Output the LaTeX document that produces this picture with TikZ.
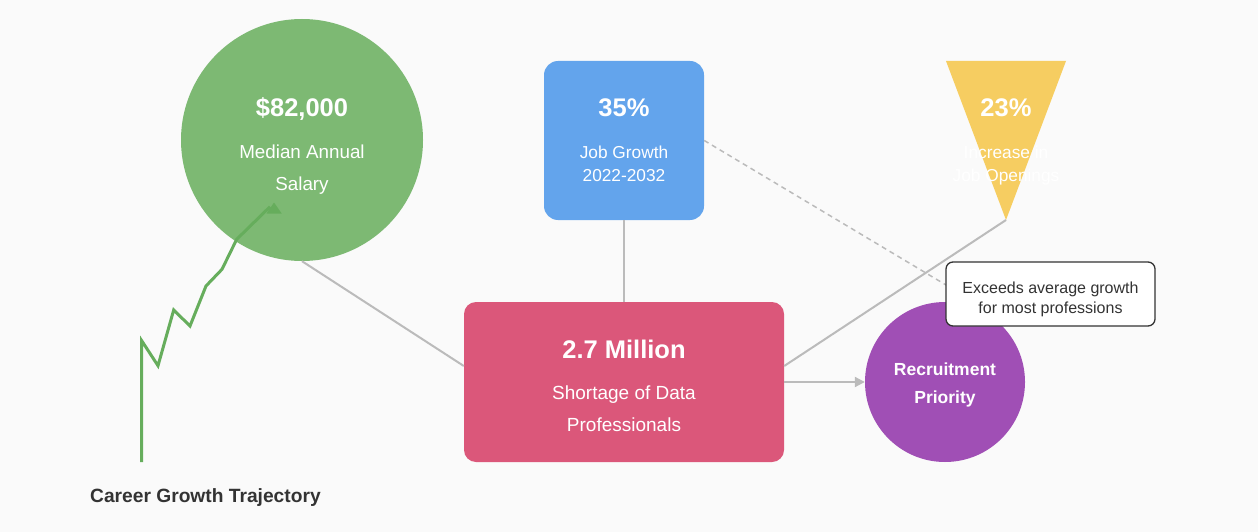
\documentclass[tikz,border=0pt]{standalone}
\usepackage{fontspec}
\setmainfont{Liberation Sans}
\usetikzlibrary{arrows.meta}
\definecolor{bgc}{HTML}{FAFAFA}
\definecolor{salc}{HTML}{7DB973}
\definecolor{jobc}{HTML}{63A4EC}
\definecolor{incc}{HTML}{F6CD61}
\definecolor{shortc}{HTML}{DB577A}
\definecolor{recc}{HTML}{A04FB5}
\definecolor{linkc}{HTML}{BBBBBB}
\definecolor{trajc}{HTML}{66AD5C}
\definecolor{darkc}{HTML}{333333}
\newcommand{\fs}[1]{\fontsize{#1}{#1}\selectfont}
\tikzset{
  shapebox/.style={draw=none, inner sep=0pt},
  wtext/.style={text=white, anchor=base, inner sep=0pt},
  big/.style={wtext, font=\fs{25.5}\bfseries},
  link/.style={draw=linkc, line width=2pt},
  notebox/.style={draw=darkc, line width=1.3pt, fill=white, rounded corners=7pt, minimum width=209pt, minimum height=64pt, inner sep=0pt},
}
\begin{document}
\begin{tikzpicture}[x=1pt,y=-1pt]
\useasboundingbox (0,0) rectangle (1258,532);
\fill[bgc] (0,0) rectangle (1258,532);

% shapes
\node[shapebox, circle, fill=salc, minimum size=242pt] (sal) at (302,140) {};
\node[shapebox, rectangle, rounded corners=14pt, fill=jobc, minimum width=160pt, minimum height=159pt] (job) at (624,140.5) {};
\fill[incc] (946,61) -- (1066,61) -- (1006,220) -- cycle;
\coordinate (inc) at (1006,220);
\node[shapebox, rectangle, rounded corners=12pt, fill=shortc, minimum width=320pt, minimum height=160pt] (short) at (624,382) {};
\node[shapebox, circle, fill=recc, minimum size=160pt] (rec) at (945,382) {};

% connectors
\draw[link] (sal.south) -- ([yshift=16pt]short.west);
\draw[link] (job.south) -- (short.north);
\draw[link] (inc) -- ([yshift=16pt]short.east);
\draw[link, -{Triangle[length=10pt,width=10pt]}] (short.east) -- (rec.west);
\coordinate (notepos) at (1050.5,294);
\draw[draw=linkc, line width=1.5pt, dash pattern=on 5pt off 4pt] (job.east) -- ([xshift=-104.5pt,yshift=9pt]notepos);
\node[notebox] (note) at (notepos) {};

% texts
\node[big] (t1) at (302,117) {\$82,000};
\node[wtext, font=\fs{18.8}] (t2) at (302,158) {Median Annual};
\node[wtext, font=\fs{18.8}] (t3) at (302,190) {Salary};

\node[big] (t4) at (624,117) {35\%};
\node[wtext, font=\fs{17.3}] (t5) at (624,158) {Job Growth};
\node[wtext, font=\fs{17.3}] (t6) at (624,182) {2022-2032};

\node[big] (t7) at (1006,117) {23\%};
\node[wtext, font=\fs{17.3}] (t8) at (1006,158) {Increase in};
\node[wtext, font=\fs{17.3}] (t9) at (1006,182) {Job Openings};

\node[big] (t10) at (624,358) {2.7 Million};
\node[wtext, font=\fs{19}] (t11) at (624,399) {Shortage of Data};
\node[wtext, font=\fs{19}] (t12) at (624,431) {Professionals};

\node[wtext, font=\fs{17.5}\bfseries] (t13) at (945,375) {Recruitment};
\node[wtext, font=\fs{17.5}\bfseries] (t14) at (945,403) {Priority};

\node[anchor=base, inner sep=0pt, text=darkc, font=\fs{16}] (t15) at (1050.5,293.5) {Exceeds average growth};
\node[anchor=base, inner sep=0pt, text=darkc, font=\fs{16}] (t16) at (1050.5,313.5) {for most professions};

% trajectory
\draw[trajc, line width=3pt, line join=miter] (141.7,462) -- (141.7,340.7) -- (158,365.7) -- (173.7,310) -- (190,326) -- (206,286) -- (222,269.3) -- (236.7,239.3) -- (270,206.7);
\fill[trajc] (266.5,213.5) -- (274,202.5) -- (281.7,213.5) -- cycle;
\node[anchor=base west, inner sep=0pt, text=darkc, font=\fs{19.2}\bfseries] (title) at (90,502.5) {Career Growth Trajectory};
\end{tikzpicture}
\end{document}
